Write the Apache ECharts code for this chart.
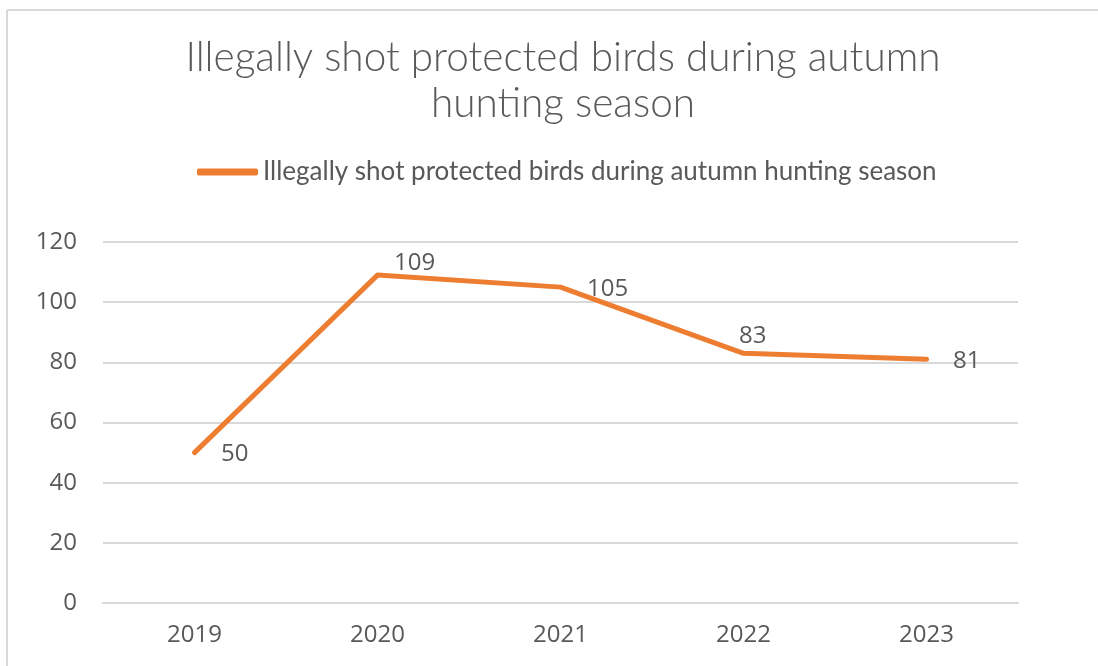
<!DOCTYPE html>
<html>
<head>
<meta charset="utf-8">
<script src="https://cdn.jsdelivr.net/npm/echarts@6/dist/echarts.min.js"></script>
<style>
html,body{margin:0;padding:0;background:#fff;}
#chart{width:1098px;height:666px;}
</style>
</head>
<body>
<div id="chart"></div>
<script>
const chartTitle = "Illegally shot protected birds during autumn\nhunting season";
const seriesName = "Illegally shot protected birds during autumn hunting season";
const years = ["2019", "2020", "2021", "2022", "2023"];
const birds = [50, 109, 105, 83, 81];
const yTicks = { min: 0, max: 120, interval: 20 };

// label placement tweaks (style only)
const labelOffsets = [[0, 2], [-10, -12], [0, 2], [-31, -17], [0, 2]];

const chart = echarts.init(document.getElementById('chart'));
const textColor = '#595959';
const lineColor = '#ED7D31';
const option = {
  backgroundColor: '#fff',
  animation: false,
  graphic: [
    { type: 'line', shape: { x1: 7, y1: 10, x2: 1098, y2: 10 }, style: { stroke: '#d9d9d9', lineWidth: 2 } },
    { type: 'line', shape: { x1: 7, y1: 10, x2: 7, y2: 666 }, style: { stroke: '#d9d9d9', lineWidth: 2 } }
  ],
  title: {
    text: chartTitle,
    left: 558,
    textAlign: 'center',
    top: 30,
    textStyle: { fontFamily: 'Lato', fontWeight: 300, fontSize: 40.5, color: textColor, lineHeight: 46 }
  },
  legend: {
    left: 192,
    top: 154,
    icon: 'roundRect',
    itemWidth: 61,
    itemHeight: 7,
    itemGap: 5,
    textStyle: { fontFamily: 'Lato', fontSize: 26, color: textColor },
    data: [{ name: seriesName, itemStyle: { color: lineColor, opacity: 1 } }]
  },
  grid: { left: 103, right: 80, top: 242, bottom: 63, containLabel: false },
  xAxis: {
    type: 'category',
    data: years,
    boundaryGap: true,
    axisLine: { show: true, lineStyle: { color: '#d9d9d9', width: 2 } },
    axisTick: { show: false },
    axisLabel: { color: textColor, fontFamily: 'Open Sans', fontSize: 24, margin: 20 }
  },
  yAxis: {
    type: 'value',
    min: yTicks.min,
    max: yTicks.max,
    interval: yTicks.interval,
    axisLine: { show: false },
    axisTick: { show: false },
    splitLine: { lineStyle: { color: '#d9d9d9', width: 2 } },
    axisLabel: { color: textColor, fontFamily: 'Open Sans', fontSize: 24, margin: 26 }
  },
  series: [{
    name: seriesName,
    type: 'line',
    data: birds.map((v, i) => ({ value: v, label: { offset: labelOffsets[i] } })),
    showSymbol: true,
    symbol: 'circle',
    symbolSize: 1,
    itemStyle: { color: 'rgba(0,0,0,0)' },
    lineStyle: { color: lineColor, width: 5, cap: 'round', join: 'round' },
    label: {
      show: true,
      position: 'right',
      distance: 26,
      color: textColor,
      fontFamily: 'Open Sans',
      fontSize: 24
    }
  }]
};
chart.setOption(option);
</script>
</body>
</html>
